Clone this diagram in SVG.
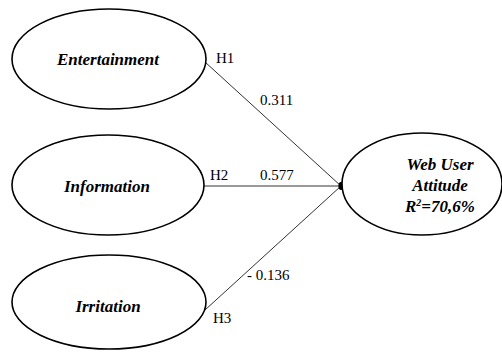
<svg xmlns="http://www.w3.org/2000/svg" width="502" height="359" viewBox="0 0 502 359">
<style>
.node{fill:#fff;stroke:#000;stroke-width:1.6}
.lbl{font-weight:bold;font-style:italic;font-size:17px;text-anchor:middle;fill:#000}
.tl{font-size:15px;fill:#000}
.edge{stroke:#333;stroke-width:1}
</style>
<rect width="502" height="359" fill="#fff"/>
<g id="connectors" font-family="Liberation Serif, serif">
<line class="edge" x1="205" y1="62" x2="341" y2="186"/>
<line class="edge" x1="204" y1="186" x2="341" y2="186"/>
<line class="edge" x1="205" y1="310" x2="341" y2="186"/>
<ellipse cx="341" cy="186" rx="2.6" ry="4" fill="#000"/>
<text class="tl" x="216" y="63">H1</text>
<text class="tl" x="260" y="105">0.311</text>
<text class="tl" x="210" y="180">H2</text>
<text class="tl" x="260" y="180">0.577</text>
<text class="tl" x="247" y="280">- 0.136</text>
<text class="tl" x="213" y="323">H3</text>
</g>
<g id="entertainment" font-family="Liberation Serif, serif">
<ellipse class="node" cx="109" cy="59" rx="97" ry="50"/>
<text class="lbl" x="108" y="65">Entertainment</text>
</g>
<g id="information" font-family="Liberation Serif, serif">
<ellipse class="node" cx="108" cy="185" rx="96" ry="50"/>
<text class="lbl" x="107" y="192">Information</text>
</g>
<g id="irritation" font-family="Liberation Serif, serif">
<ellipse class="node" cx="109" cy="302" rx="97" ry="47"/>
<text class="lbl" x="108" y="312">Irritation</text>
</g>
<g id="web-user-attitude" font-family="Liberation Serif, serif">
<ellipse class="node" cx="422" cy="184" rx="80" ry="51"/>
<text class="lbl" x="440" y="170" font-size="16">Web User</text>
<text class="lbl" x="440" y="191" font-size="16">Attitude</text>
<text class="lbl" x="440" y="212" font-size="16">R<tspan font-size="10" dy="-6">2</tspan><tspan dy="6">=70,6%</tspan></text>
</g>
</svg>
